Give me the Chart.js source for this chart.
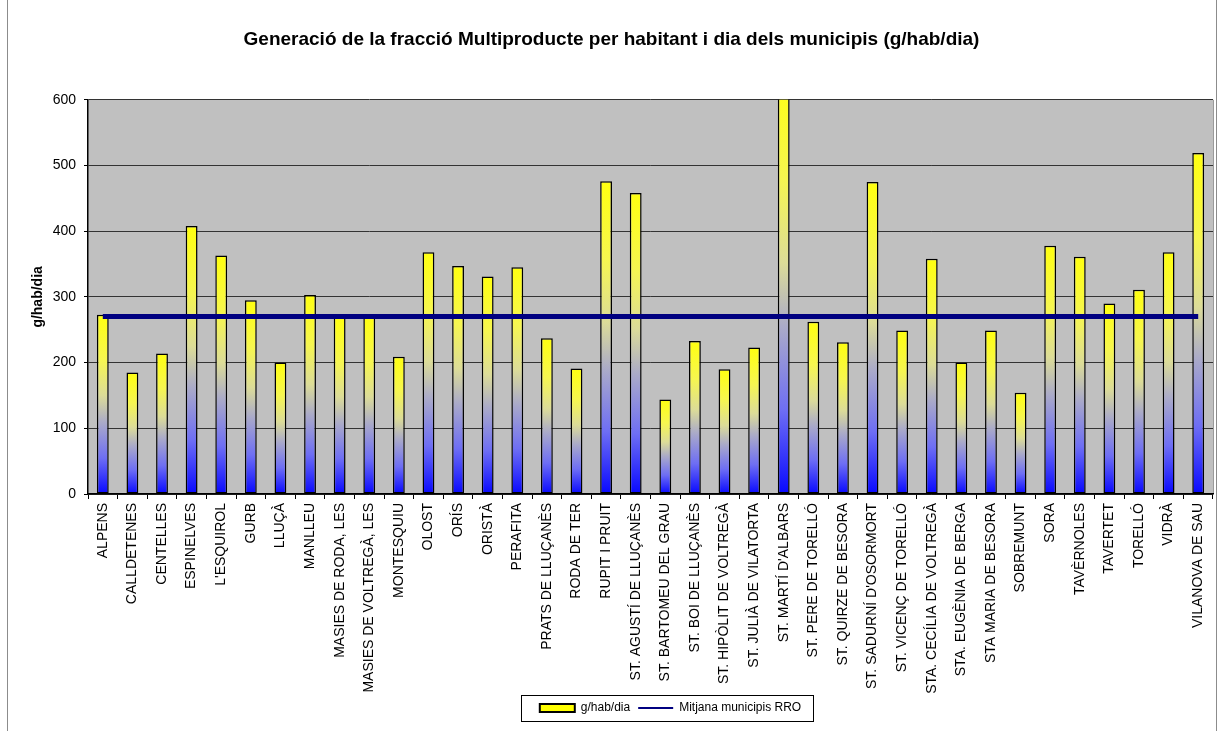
<!DOCTYPE html>
<html>
<head>
<meta charset="utf-8">
<script src="https://cdn.jsdelivr.net/npm/chart.js@4/dist/chart.umd.min.js"></script>
<style>
  html, body { margin: 0; padding: 0; background: #fff; }
  #wrap { position: relative; width: 1220px; height: 731px; }
  #edge { position: absolute; left: 7px; top: 0; width: 1210px; height: 731px;
          border-left: 1px solid #8c8c8c; border-right: 1px solid #8c8c8c; box-sizing: border-box; pointer-events: none; }
</style>
</head>
<body>
<div id="wrap">
  <canvas id="myChart" width="1220" height="731"></canvas>
  <div id="edge"></div>
</div>
<script>
//municipis (eix x)
const municipis = [
    'ALPENS', 'CALLDETENES', 'CENTELLES', 'ESPINELVES', "L'ESQUIROL", 'GURB', 'LLUÇÀ', 'MANLLEU',
    'MASIES DE RODA, LES', 'MASIES DE VOLTREGÀ, LES', 'MONTESQUIU', 'OLOST', 'ORÍS', 'ORISTÀ',
    'PERAFITA', 'PRATS DE LLUÇANÈS', 'RODA DE TER', 'RUPIT I PRUIT', 'ST. AGUSTÍ DE LLUÇANÈS',
    'ST. BARTOMEU DEL GRAU', 'ST. BOI DE LLUÇANÈS', 'ST. HIPÒLIT DE VOLTREGÀ', 'ST. JULIÀ DE VILATORTA',
    "ST. MARTÍ D'ALBARS", 'ST. PERE DE TORELLÓ', 'ST. QUIRZE DE BESORA', "ST. SADURNÍ D'OSORMORT",
    'ST. VICENÇ DE TORELLÓ', 'STA. CECÍLIA DE VOLTREGÀ', 'STA. EUGÈNIA DE BERGA', 'STA MARIA DE BESORA',
    'SOBREMUNT', 'SORA', 'TAVÈRNOLES', 'TAVERTET', 'TORELLÓ', 'VIDRÀ', 'VILANOVA DE SAU'
];

//g/hab/dia per municipi
const gHabDia = [
    273, 185, 214, 408, 363, 295, 200, 303,
    269, 269, 209, 368, 347, 331,
    345, 237, 191, 476, 458,
    144, 233, 190, 223,
    640, 262, 231, 475,
    249, 358, 200, 249,
    154, 378, 361, 290, 311, 368, 519
];

//mitjana municipis RRO
const mitjanaRRO = 270;
const mitjanaData = municipis.map(() => mitjanaRRO);

//y ticks
const yMin = 0;
const yMax = 600;
const yStep = 100;

const font = "'Liberation Sans', Arial, sans-serif";

//gradient groc -> blau per cada barra
function barGradient(context){
    const chart = context.chart;
    const y = chart.scales.y;
    if(!y || context.dataIndex === undefined) return '#FFFF00';
    const v = context.dataset.data[context.dataIndex];
    const top = y.getPixelForValue(v);
    const base = y.getPixelForValue(0);
    if(!isFinite(top) || !isFinite(base) || top === base) return '#FFFF00';
    const g = chart.ctx.createLinearGradient(0, top, 0, base);
    g.addColorStop(0, '#FFFF10');
    g.addColorStop(0.25, '#F6F650');
    g.addColorStop(0.45, '#DCDC98');
    g.addColorStop(0.6, '#ABABC8');
    g.addColorStop(0.8, '#6E6EF4');
    g.addColorStop(1, '#0808FF');
    return g;
}

//fons gris, posicio i marc de la llegenda
const plotBackground = {
    id: 'plotBackground',
    afterLayout(chart){
        //la llegenda de l'original no esta centrada
        chart.legend.left += 118;
    },
    beforeDraw(chart){
        const a = chart.chartArea;
        const ctx = chart.ctx;
        ctx.save();
        ctx.fillStyle = '#C0C0C0';
        ctx.fillRect(a.left, a.top, a.right - a.left, a.bottom - a.top);
        ctx.strokeStyle = '#9a9a9a';
        ctx.lineWidth = 1;
        ctx.beginPath();
        ctx.moveTo(a.right + 0.5, a.top);
        ctx.lineTo(a.right + 0.5, a.bottom);
        ctx.stroke();
        ctx.restore();
    },
    afterDraw(chart){
        const boxes = chart.legend.legendHitBoxes;
        if(!boxes || !boxes.length) return;
        let l = Infinity, r = -Infinity, t = Infinity, b = -Infinity;
        for(const h of boxes){
            l = Math.min(l, h.left); r = Math.max(r, h.left + h.width);
            t = Math.min(t, h.top); b = Math.max(b, h.top + h.height);
        }
        const ctx = chart.ctx;
        ctx.save();
        ctx.strokeStyle = '#000';
        ctx.lineWidth = 1;
        ctx.strokeRect(Math.round(l - 19) + 0.5, Math.round(t - 7) + 0.5, Math.round(r - l + 31), Math.round(b - t + 14));
        ctx.restore();
    }
};

const data = {
    labels: municipis,
    datasets: [
        {
            type: 'bar',
            label: 'g/hab/dia',
            data: gHabDia,
            backgroundColor: barGradient,
            borderColor: '#000',
            borderWidth: 1.5,
            borderSkipped: false,
            categoryPercentage: 0.4,
            barPercentage: 1,
            order: 2
        },
        {
            type: 'line',
            label: 'Mitjana municipis RRO',
            data: mitjanaData,
            borderColor: '#000080',
            backgroundColor: '#000080',
            borderWidth: 5,
            pointRadius: 0,
            fill: false,
            order: 1
        }
    ]
};

const config = {
    type: 'bar',
    data: data,
    options: {
        responsive: false,
        animation: false,
        layout: {
            padding: { left: 10, right: 7, top: 0, bottom: 7 }
        },
        plugins: {
            title: {
                display: true,
                text: 'Generació de la fracció Multiproducte per habitant i dia dels municipis (g/hab/dia)',
                color: '#000',
                font: { family: font, size: 19, weight: 'bold' },
                padding: { top: 28, bottom: 49 }
            },
            legend: {
                position: 'bottom',
                sort: (a, b) => a.datasetIndex - b.datasetIndex,
                labels: {
                    color: '#000',
                    font: { family: font, size: 12 },
                    usePointStyle: true,
                    pointStyleWidth: 35,
                    boxHeight: 8,
                    padding: 8,
                    generateLabels(chart){
                        return [
                            {
                                text: 'g/hab/dia', datasetIndex: 0, pointStyle: 'rect',
                                fillStyle: '#FFFF00', strokeStyle: '#000', lineWidth: 2, fontColor: '#000'
                            },
                            {
                                text: 'Mitjana municipis RRO', datasetIndex: 1, pointStyle: 'line',
                                fillStyle: '#000080', strokeStyle: '#000080', lineWidth: 2, fontColor: '#000'
                            }
                        ];
                    }
                }
            },
            tooltip: { enabled: false }
        },
        scales: {
            x: {
                offset: true,
                grid: {
                    offset: true,
                    drawOnChartArea: false,
                    drawTicks: true,
                    tickLength: 5,
                    color: '#000'
                },
                border: { color: '#000', width: 1.5 },
                ticks: {
                    autoSkip: false,
                    minRotation: 90,
                    maxRotation: 90,
                    padding: 4,
                    color: '#000',
                    font: { family: font, size: 14 }
                },
                afterFit(scale){ scale.height = 200; }
            },
            y: {
                min: yMin,
                max: yMax,
                ticks: {
                    stepSize: yStep,
                    padding: 8,
                    color: '#000',
                    font: { family: font, size: 14 }
                },
                grid: {
                    color: '#333',
                    lineWidth: 1,
                    tickLength: 4,
                    tickColor: '#000'
                },
                border: { color: '#000', width: 1.5 },
                title: {
                    display: true,
                    text: 'g/hab/dia',
                    color: '#000',
                    font: { family: font, size: 14, weight: 'bold' },
                    padding: { top: 20, bottom: 6 }
                },
                afterFit(scale){ scale.width = 78; }
            }
        }
    },
    plugins: [plotBackground]
};

const ctx = document.getElementById('myChart').getContext('2d');
const myChart = new Chart(ctx, config);
</script>
</body>
</html>
